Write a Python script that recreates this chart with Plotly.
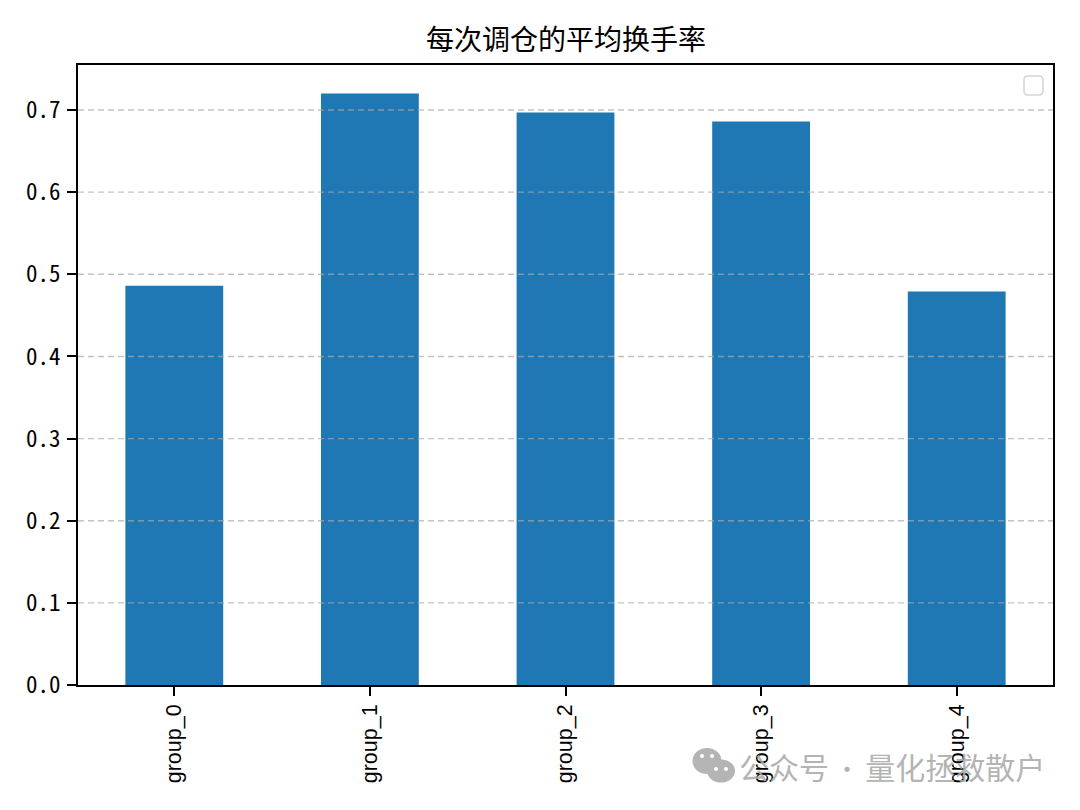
import plotly.graph_objects as go

categories = ["group_0", "group_1", "group_2", "group_3", "group_4"]
turnover = [0.486, 0.720, 0.697, 0.686, 0.479]
y_ticks = [0.0, 0.1, 0.2, 0.3, 0.4, 0.5, 0.6, 0.7]
y_tick_labels = ["0.0", "0.1", "0.2", "0.3", "0.4", "0.5", "0.6", "0.7"]
title_text = "每次调仓的平均换手率"
watermark_left = "公众号"
watermark_sep = " · "
watermark_right = "量化拯救散户"

W, H = 1080, 810
L, R, T, B = 78, 1053, 65, 685


def px(x):
    return (x - L) / (R - L)


def py(y):
    return (B - y) / (B - T)


fig = go.Figure(go.Bar(x=categories, y=turnover, width=0.5, marker=dict(color="#1f77b4", line=dict(width=0))))

shapes = []
for t in y_ticks[1:]:
    shapes.append(dict(type="line", xref="x domain", yref="y", x0=0, x1=1, y0=t, y1=t, layer="above",
                       line=dict(color="rgba(170,170,170,0.7)", width=1.4, dash="6px,4px")))


def rounded(x0, y0, x1, y1, r):
    X = lambda v: f"{px(v):.5f}"
    Y = lambda v: f"{py(v):.5f}"
    return (f"M{X(x0+r)},{Y(y0)} L{X(x1-r)},{Y(y0)} Q{X(x1)},{Y(y0)} {X(x1)},{Y(y0+r)} "
            f"L{X(x1)},{Y(y1-r)} Q{X(x1)},{Y(y1)} {X(x1-r)},{Y(y1)} L{X(x0+r)},{Y(y1)} "
            f"Q{X(x0)},{Y(y1)} {X(x0)},{Y(y1-r)} L{X(x0)},{Y(y0+r)} Q{X(x0)},{Y(y0)} {X(x0+r)},{Y(y0)} Z")


# empty legend frame
shapes.append(dict(type="path", xref="paper", yref="paper", path=rounded(1024, 76, 1043, 95, 4), layer="above",
                   fillcolor="white", line=dict(color="#d6d6d6", width=1.6)))


def ellipse(cx, cy, rx, ry, fill):
    return dict(type="circle", xref="paper", yref="paper", x0=px(cx - rx), x1=px(cx + rx),
                y0=py(cy + ry), y1=py(cy - ry), fillcolor=fill, line=dict(width=0), layer="above")


# wechat-style icon of the watermark
shapes.append(ellipse(707, 761, 14.5, 13, "#b4b4b4"))
shapes.append(ellipse(721, 771, 14, 11.5, "#b4b4b4"))
for cx, cy in [(702, 756), (712, 756), (716, 769), (726, 769)]:
    shapes.append(ellipse(cx, cy, 2, 2, "white"))

watermark = (f"{watermark_left}<span style='font-size:25px'>{watermark_sep}</span>{watermark_right}")

fig.update_layout(
    width=W, height=H,
    margin=dict(l=L, r=W - R, t=T, b=H - B, autoexpand=False),
    paper_bgcolor="white", plot_bgcolor="white",
    showlegend=False,
    title=dict(text=title_text, x=566 / W, xanchor="center", y=1 - 40 / H, yanchor="middle",
               font=dict(family="Noto Sans CJK SC", size=28, color="black")),
    xaxis=dict(range=[-0.4923, 4.4923], tickangle=-90, ticks="outside", ticklen=9, tickwidth=1.5, tickcolor="black",
               showline=True, linecolor="black", linewidth=1.6, mirror=True, showgrid=False, zeroline=False,
               tickfont=dict(family="Liberation Sans", size=21.5, color="black")),
    yaxis=dict(range=[0, 0.7548], tickmode="array", tickvals=y_ticks, ticktext=y_tick_labels, ticks="outside",
               ticklen=9, tickwidth=1.5, tickcolor="black", showline=True, linecolor="black", linewidth=1.6,
               mirror=True, showgrid=False, zeroline=False, ticklabelstandoff=2,
               tickfont=dict(family="'Noto Sans Mono CJK SC', 'DejaVu Sans Mono', monospace", size=23, color="black")),
    shapes=shapes,
    annotations=[dict(text=watermark, xref="paper", yref="paper", x=px(1047), y=py(766), xanchor="right",
                      yanchor="middle", showarrow=False,
                      font=dict(family="Noto Sans CJK SC", size=30, color="rgba(170,170,170,0.9)"))],
)

fig.write_html("out.html", config={"displayModeBar": False}, post_script="document.body.style.margin='0';")
